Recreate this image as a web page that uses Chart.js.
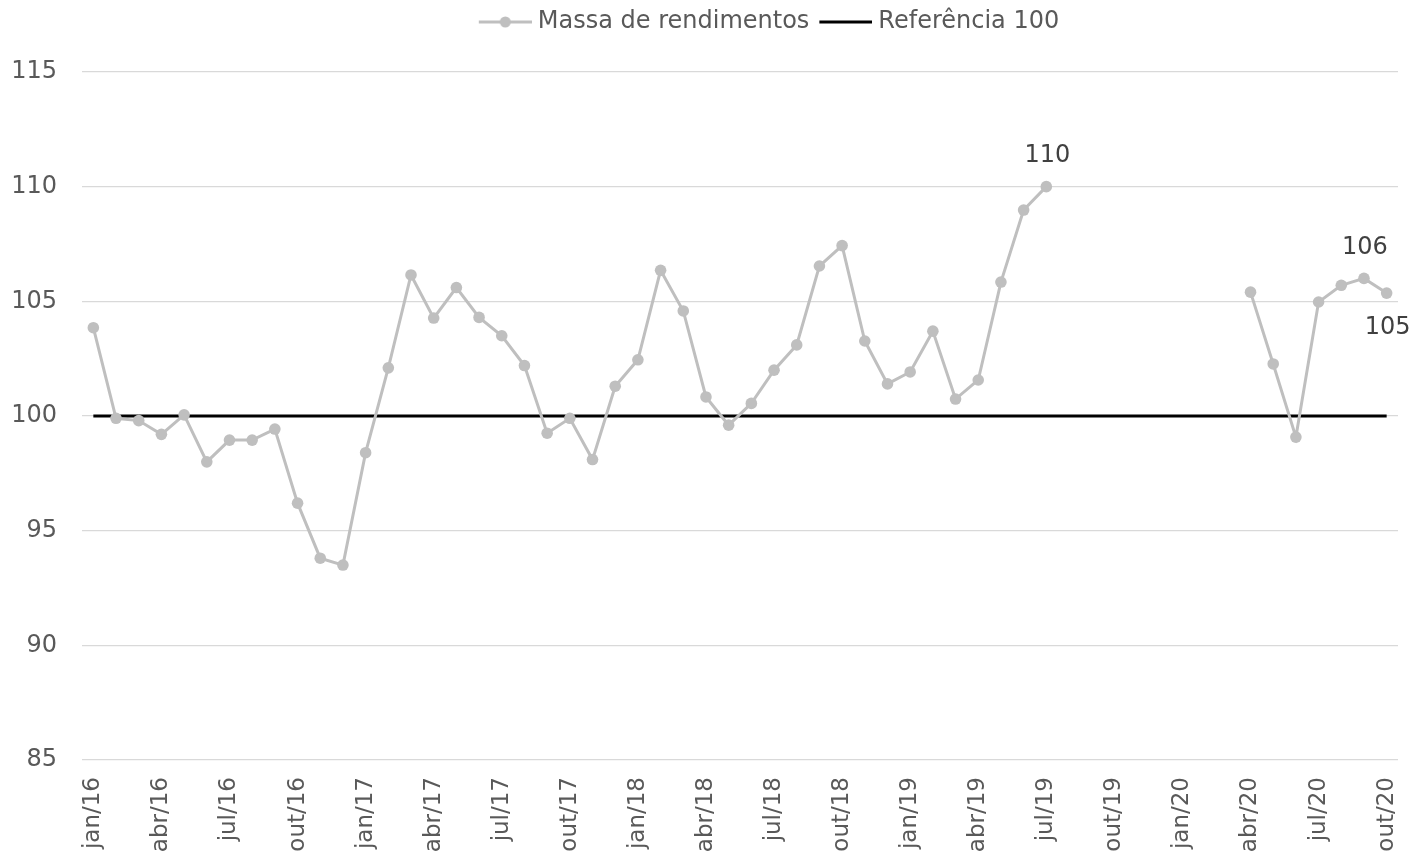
<!DOCTYPE html>
<html lang="pt">
<head>
<meta charset="utf-8">
<title>Massa de rendimentos</title>
<script src="https://cdn.jsdelivr.net/npm/chart.js@4.4.1/dist/chart.umd.min.js"></script>
<style>
  html, body { margin: 0; padding: 0; background: #fff; }
  #wrap { width: 1414px; height: 860px; }
</style>
</head>
<body>
<div id="wrap"><canvas id="chart-massa"></canvas></div>
<script>
// Massa de rendimentos (índice), jan/16 a out/20, com linha de referência em 100.

const MONTHS = [
  'jan/16','fev/16','mar/16','abr/16','mai/16','jun/16','jul/16','ago/16','set/16','out/16','nov/16','dez/16',
  'jan/17','fev/17','mar/17','abr/17','mai/17','jun/17','jul/17','ago/17','set/17','out/17','nov/17','dez/17',
  'jan/18','fev/18','mar/18','abr/18','mai/18','jun/18','jul/18','ago/18','set/18','out/18','nov/18','dez/18',
  'jan/19','fev/19','mar/19','abr/19','mai/19','jun/19','jul/19','ago/19','set/19','out/19','nov/19','dez/19',
  'jan/20','fev/20','mar/20','abr/20','mai/20','jun/20','jul/20','ago/20','set/20','out/20'
];

const MASSA = [
  103.85, 99.9, 99.8, 99.2, 100.05, 98.0, 98.95, 98.95, 99.43, 96.2, 93.8, 93.5,
  98.4, 102.1, 106.15, 104.27, 105.6, 104.3, 103.5, 102.2, 99.25, 99.9, 98.1, 101.3,
  102.45, 106.35, 104.58, 100.83, 99.6, 100.55, 102.0, 103.1, 106.54, 107.43, 103.27, 101.4,
  101.92, 103.7, 100.74, 101.57, 105.84, 108.98, 110.0, null, null, null, null, null,
  null, null, null, 105.4, 102.27, 99.08, 104.97, 105.7, 106.0, 105.36
];

const REFERENCIA = MONTHS.map(() => 100);

// which points carry a value label, and on which side
const LABELED = { 42: 'above', 56: 'above', 57: 'below' };

const Y_TICKS = { min: 85, max: 115, step: 5 };

const GREY = '#bfbfbf';
const TEXT = '#595959';
const FONT = '"DejaVu Sans", Verdana, sans-serif';
const FS = 24;

Chart.defaults.font.family = FONT;
Chart.defaults.font.size = FS;
Chart.defaults.color = TEXT;

// legend markers: a line segment (with dot for the series). Left 6px kept transparent
// so the visible marker starts at the item edge and sits closer to the text.
function legendMarker(withDot, color) {
  const c = document.createElement('canvas');
  c.width = 59;
  c.height = 14;
  const g = c.getContext('2d');
  g.strokeStyle = color;
  g.lineWidth = 3;
  g.beginPath();
  g.moveTo(6, 7);
  g.lineTo(59, 7);
  g.stroke();
  if (withDot) {
    g.fillStyle = color;
    g.beginPath();
    g.arc(32.5, 7, 5.5, 0, Math.PI * 2);
    g.fill();
  }
  return c;
}

const valueLabels = {
  id: 'valueLabels',
  afterDatasetsDraw(chart) {
    const meta = chart.getDatasetMeta(0);
    const ctx = chart.ctx;
    ctx.save();
    ctx.font = FS + 'px ' + FONT;
    ctx.fillStyle = '#404040';
    ctx.textAlign = 'center';
    ctx.textBaseline = 'middle';
    Object.keys(LABELED).forEach(k => {
      const i = Number(k);
      const pt = meta.data[i];
      const v = MASSA[i];
      if (!pt || v == null) return;
      const dy = LABELED[k] === 'above' ? -31 : 35;
      ctx.fillText(String(Math.round(v)), pt.x + 1, pt.y + dy);
    });
    ctx.restore();
  }
};

// the legend in the original sits a bit right of centre
const legendShift = {
  id: 'legendShift',
  afterLayout(chart) {
    if (!chart.legend) return;
    chart.legend.left += 70;
    chart.legend.right += 70;
  }
};

new Chart(document.getElementById('chart-massa'), {
  type: 'line',
  data: {
    labels: MONTHS,
    datasets: [
      {
        label: 'Massa de rendimentos',
        data: MASSA,
        borderColor: GREY,
        backgroundColor: GREY,
        borderWidth: 3,
        pointRadius: 5.8,
        pointBackgroundColor: GREY,
        pointBorderColor: GREY,
        pointBorderWidth: 0,
        pointStyle: 'circle',
        spanGaps: false,
        tension: 0
      },
      {
        label: 'Referência 100',
        data: REFERENCIA,
        borderColor: '#000000',
        backgroundColor: '#000000',
        borderWidth: 3,
        pointRadius: 0,
        tension: 0
      }
    ]
  },
  options: {
    responsive: true,
    maintainAspectRatio: false,
    animation: false,
    layout: { padding: { top: 0, right: 16, bottom: 0, left: 0 } },
    plugins: {
      legend: {
        position: 'top',
        labels: {
          usePointStyle: true,
          pointStyleWidth: 47,
          padding: 10,
          color: TEXT,
          font: { size: FS },
          generateLabels: (chart) => chart.data.datasets.map((ds, i) => ({
            text: ds.label,
            datasetIndex: i,
            pointStyle: legendMarker(i === 0, ds.borderColor),
            fontColor: TEXT,
            lineWidth: 0,
            hidden: false
          }))
        }
      },
      // empty subtitle used only as a spacer under the legend
      subtitle: {
        display: true,
        text: '',
        weight: 500,
        font: { size: 1, lineHeight: 1 },
        padding: { top: 27, bottom: 0 }
      },
      tooltip: { enabled: false }
    },
    scales: {
      x: {
        offset: true,
        grid: { display: false },
        border: { display: false },
        ticks: {
          autoSkip: false,
          minRotation: 90,
          maxRotation: 90,
          padding: 9,
          color: TEXT,
          font: { size: 23 },
          callback: function (v, i) { return i % 3 === 0 ? MONTHS[i] : ''; }
        },
        afterFit: (s) => {
          s.height = 100;
          s.paddingLeft = 0;
          s.paddingRight = 0;
        }
      },
      y: {
        min: Y_TICKS.min,
        max: Y_TICKS.max,
        grid: { color: '#d9d9d9', lineWidth: 1.2, drawTicks: false },
        border: { display: false },
        ticks: {
          stepSize: Y_TICKS.step,
          padding: 25,
          color: TEXT,
          font: { size: FS }
        },
        afterFit: (s) => { s.width = 82; }
      }
    }
  },
  plugins: [valueLabels, legendShift]
});
</script>
</body>
</html>
